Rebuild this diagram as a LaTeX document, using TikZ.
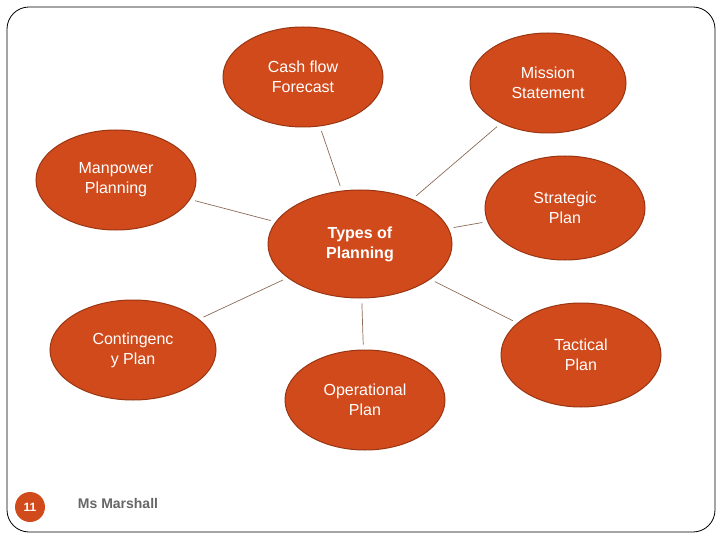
\documentclass[tikz,border=0pt]{standalone}
\usepackage{fontspec}
\setmainfont{Liberation Sans}
\usetikzlibrary{shapes.geometric}
\definecolor{orf}{HTML}{D14A1C}
\definecolor{orb}{HTML}{9A3512}
\definecolor{lnc}{HTML}{8C6A58}
\tikzset{
 bub/.style={ellipse,fill=orf,draw=orb,line width=1pt,text=white,font=\fontsize{16}{20}\selectfont,align=center,inner sep=0pt},
 link/.style={draw=lnc,line width=0.7pt,shorten <=5pt,shorten >=5pt}
}
\begin{document}
\begin{tikzpicture}[x=1pt,y=-1pt]
\useasboundingbox (0,0) rectangle (720,540);
\draw[black,line width=0.8pt,rounded corners=22pt] (7,7) rectangle (715,532);
\node[bub,minimum width=160,minimum height=100] (cf) at (303,77) {Cash flow\\Forecast};
\node[bub,minimum width=156,minimum height=100] (ms) at (548,83) {Mission\\Statement};
\node[bub,minimum width=160,minimum height=100] (mp) at (116,180) {Manpower\\Planning};
\node[bub,minimum width=184,minimum height=108,font=\fontsize{16}{20}\selectfont\bfseries] (tp) at (360,244) {Types of\\Planning};
\node[bub,minimum width=160,minimum height=104] (sp) at (565,208) {Strategic\\Plan};
\node[bub,minimum width=166,minimum height=100] (cp) at (133,350) {Contingenc\\y Plan};
\node[bub,minimum width=160,minimum height=104] (tc) at (581,355) {Tactical\\Plan};
\node[bub,minimum width=160,minimum height=100] (op) at (365,400) {Operational\\Plan};
\foreach \n in {cf,ms,mp,sp,cp,tc,op} \draw[link] (\n) -- (tp);
\node[circle,fill=orf,minimum size=30pt,inner sep=0pt,text=white,font=\fontsize{12}{14}\selectfont\bfseries] (pg) at (30,507) {11};
\node[font=\fontsize{14}{16}\selectfont\bfseries,text=black!60] (au) at (118,503) {Ms Marshall};
\end{tikzpicture}
\end{document}
